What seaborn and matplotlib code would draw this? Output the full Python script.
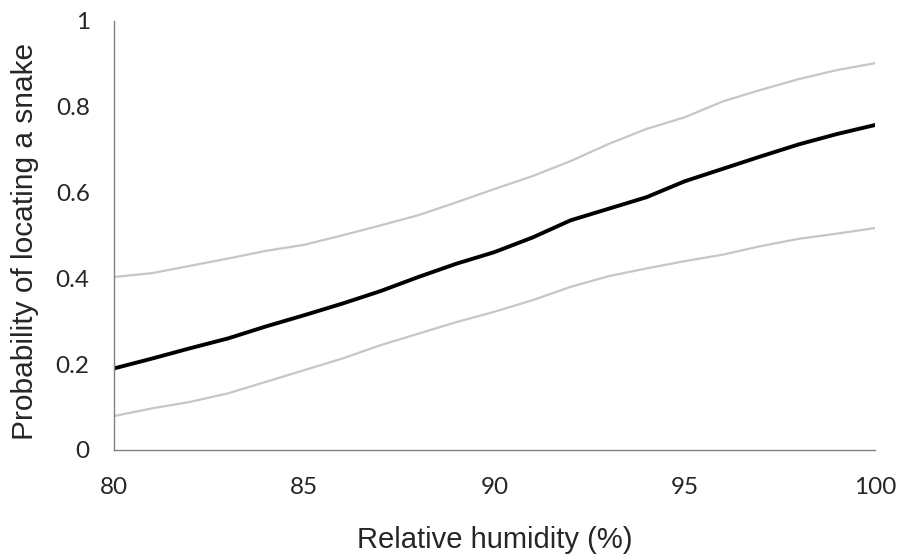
import pandas as pd
import seaborn as sns
import matplotlib
matplotlib.use('Agg')
import matplotlib.pyplot as plt

# relative humidity (%) and modelled probability with confidence bounds
humidity = [80, 81, 82, 83, 84, 85, 86, 87, 88, 89, 90,
            91, 92, 93, 94, 95, 96, 97, 98, 99, 100]
prob_mean = [0.190, 0.213, 0.237, 0.260, 0.288, 0.314, 0.341, 0.370, 0.403, 0.434, 0.461,
             0.495, 0.535, 0.562, 0.589, 0.626, 0.655, 0.684, 0.712, 0.736, 0.757]
prob_upper = [0.403, 0.412, 0.429, 0.446, 0.464, 0.478, 0.500, 0.523, 0.547, 0.577, 0.608,
              0.638, 0.673, 0.713, 0.748, 0.775, 0.812, 0.839, 0.864, 0.885, 0.901]
prob_lower = [0.079, 0.097, 0.112, 0.132, 0.159, 0.186, 0.213, 0.244, 0.271, 0.298, 0.322,
              0.349, 0.380, 0.405, 0.423, 0.440, 0.455, 0.475, 0.492, 0.504, 0.517]

data = pd.DataFrame({'humidity': humidity, 'mean': prob_mean,
                     'upper': prob_upper, 'lower': prob_lower})

W, H = 898, 555
sns.set_style('white')
fig = plt.figure(figsize=(W / 100, H / 100), dpi=100)
ax = fig.add_axes([114 / W, 1 - 450 / H, (875 - 114) / W, (450 - 20.7) / H])

sns.lineplot(data=data, x='humidity', y='upper', ax=ax, color='#c6c6c6', linewidth=1.6)
sns.lineplot(data=data, x='humidity', y='lower', ax=ax, color='#c6c6c6', linewidth=1.6)
sns.lineplot(data=data, x='humidity', y='mean', ax=ax, color='black', linewidth=2.8)

ax.set_xlim(80, 100)
ax.set_ylim(0, 1)
ax.set_xticks([80, 85, 90, 95, 100])
ax.set_yticks([0, 0.2, 0.4, 0.6, 0.8, 1])
ax.set_yticklabels(['0', '0.2', '0.4', '0.6', '0.8', '1'])

for side in ['top', 'right']:
    ax.spines[side].set_visible(False)
for side in ['left', 'bottom']:
    ax.spines[side].set_color('#808080')
    ax.spines[side].set_linewidth(1.0)

ax.tick_params(axis='both', which='major', direction='out', length=5.5, width=1,
               color='#808080', labelsize=17.5)
ax.tick_params(axis='x', pad=14)
ax.tick_params(axis='y', pad=12)
for lab in ax.get_xticklabels() + ax.get_yticklabels():
    lab.set_family('Lato')

ax.set_xlabel('')
ax.set_ylabel('')
fig.text(494.5 / W, 1 - 548 / H, 'Relative humidity (%)', fontsize=21,
         family='Liberation Sans', ha='center', va='baseline')
fig.text(33 / W, 1 - 241.5 / H, 'Probability of locating a snake', fontsize=21.5,
         family='Liberation Sans', ha='center', va='baseline', rotation=90,
         rotation_mode='anchor')

plt.savefig('out.png', dpi=100)
plt.close()
